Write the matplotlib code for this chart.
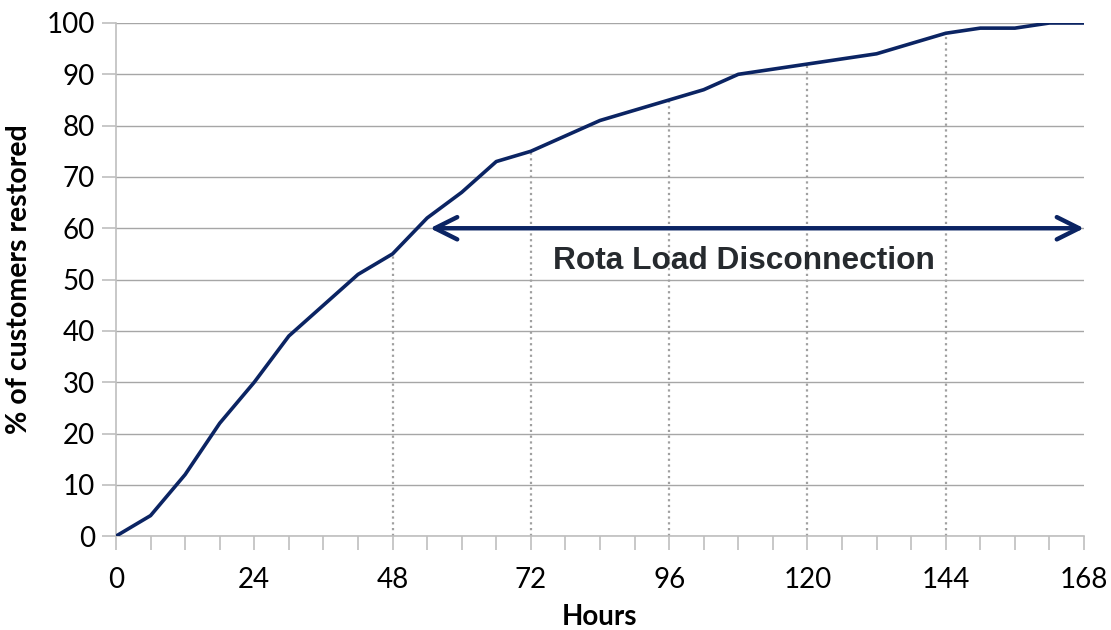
import numpy as np
import matplotlib
matplotlib.use("Agg")
import matplotlib.pyplot as plt

# restoration curve, read every 6 hours
hours = [0, 6, 12, 18, 24, 30, 36, 42, 48, 54, 60, 66, 72, 78, 84, 90, 96,
         102, 108, 114, 120, 126, 132, 138, 144, 150, 156, 162, 168]
restored = [0, 4, 12, 22, 30, 39, 45, 51, 55, 62, 67, 73, 75, 78, 81, 83, 85,
            87, 90, 91, 92, 93, 94, 96, 98, 99, 99, 100, 100]

drop_hours = [48, 72, 96, 120, 144]
x_ticks = [0, 24, 48, 72, 96, 120, 144, 168]
y_ticks = list(range(0, 101, 10))

rota_start = 54.5
rota_end = 168
rota_level = 60
rota_label = "Rota Load Disconnection"

navy = "#0b2463"
grid_col = "#a6a6a6"
tick_font = "Lato"

fig = plt.figure(figsize=(11.11, 6.30), dpi=100)
ax = fig.add_axes([0.1044, 0.149, 0.8713, 0.8145])

ax.set_xlim(0, 168)
ax.set_ylim(0, 100)

# horizontal gridlines
for v in y_ticks:
    ax.axhline(v, color=grid_col, lw=1.0, zorder=0)

# dotted drop lines from curve to axis
for h in drop_hours:
    val = np.interp(h, hours, restored)
    ax.plot([h, h], [0, val], color="#a0a0a0", lw=1.6, linestyle=(0, (1, 1.6)), zorder=1)

ax.plot(hours, restored, color=navy, lw=2.6, zorder=3)

# rota arrow
ax.annotate("", xy=(rota_end, rota_level), xytext=(rota_start, rota_level),
            arrowprops=dict(arrowstyle="<->", color=navy, lw=3.2,
                            mutation_scale=40, shrinkA=0, shrinkB=0), zorder=4)
ax.text(108.9, 53.7, rota_label, ha="center", va="center", fontsize=22.8,
        fontweight="bold", color="#262a2e", family="Liberation Sans")

for s in ["top", "right"]:
    ax.spines[s].set_visible(False)
for s in ["left", "bottom"]:
    ax.spines[s].set_color("#bfbfbf")
    ax.spines[s].set_linewidth(1.2)

ax.set_xticks(x_ticks)
ax.set_xticks(hours, minor=True)
ax.set_yticks(y_ticks)
ax.tick_params(axis="both", which="both", direction="out", length=10, width=1.2,
               color="#bfbfbf", labelsize=20, labelcolor="black")
ax.tick_params(axis="x", pad=12)
ax.tick_params(axis="y", pad=5)
for lab in ax.get_xticklabels() + ax.get_yticklabels():
    lab.set_family(tick_font)

ax.set_xlabel("Hours", fontsize=20, fontweight="bold", family=tick_font, labelpad=8)
ax.set_ylabel("% of customers restored", fontsize=20.5, fontweight="bold",
              family=tick_font, labelpad=11)

fig.savefig("out.png", dpi=100)
